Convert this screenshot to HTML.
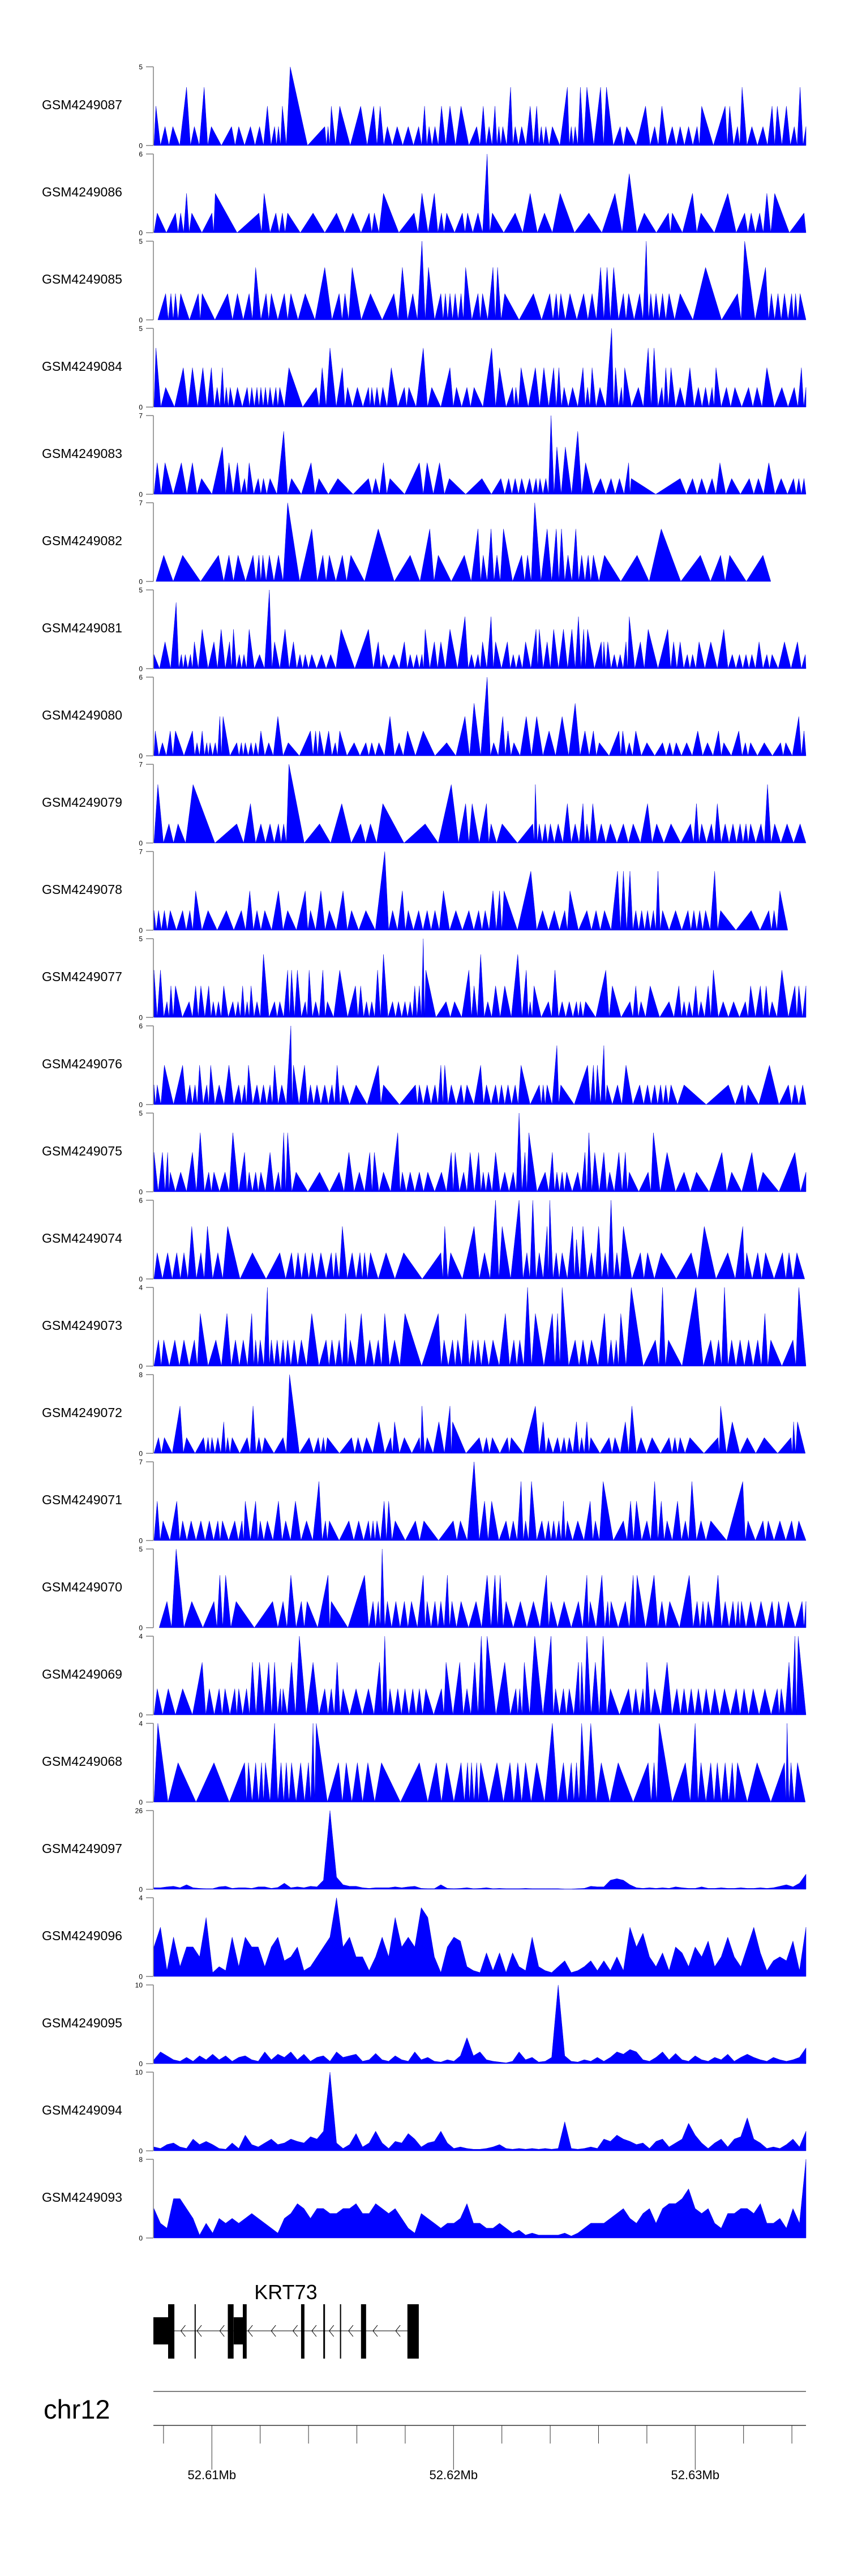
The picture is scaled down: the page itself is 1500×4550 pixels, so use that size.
<!DOCTYPE html>
<html>
<head>
<meta charset="utf-8">
<style>
  html,body{margin:0;padding:0;background:#fff;}
  svg{display:block;}
  text{font-family:"Liberation Sans", Arial, sans-serif;}
</style>
</head>
<body>
<svg id="chart" xmlns="http://www.w3.org/2000/svg" width="1500" height="4550" viewBox="0 0 1500 4550">
  <rect x="0" y="0" width="1500" height="4550" fill="#ffffff"/>
  <g id="tracks"></g>
  <g id="gene"></g>
  <g id="axis"></g>
</svg>
<script>
// ---------- track metadata ----------
const trackNames = ["GSM4249087","GSM4249086","GSM4249085","GSM4249084","GSM4249083","GSM4249082","GSM4249081","GSM4249080","GSM4249079","GSM4249078","GSM4249077","GSM4249076","GSM4249075","GSM4249074","GSM4249073","GSM4249072","GSM4249071","GSM4249070","GSM4249069","GSM4249068","GSM4249097","GSM4249096","GSM4249095","GSM4249094","GSM4249093"];
const trackMax = [5,6,5,5,7,7,5,6,7,7,5,6,5,6,4,8,7,5,4,4,26,4,10,10,8];

// ---------- spiky tracks: positions (% of window) and values ----------
const p087 = [0.3,1.7,2.9,5,6.2,7.7,8.8,11.9,13,14.8,16.2,17.4,18.5,19.1,19.7,20.9,26.2,26.7,27.2,28.5,31.7,33.7,34.7,35.8,37.3,39,40.6,41.5,42.2,43.1,44.1,45.4,47.1,49.5,50.5,51.4,52.3,52.9,53.5,54.7,55.4,56.4,57.7,58.7,59.4,60.1,61.1,63.4,64,64.6,65.4,66.4,68.5,69.4,71.5,72.5,75.4,76.8,77.9,79.5,80.7,82,83.3,84,87.6,88.3,89.5,90.2,91.7,93.4,94.8,95.6,97,98.2,99.1,100];
const v087 = [2.5,1.2,1.2,3.7,1.2,3.7,1.2,1.2,1.2,1.2,1.2,2.5,1.2,1.2,2.5,5,1.2,1.2,2.5,2.5,2.5,2.5,2.5,1.2,1.2,1.2,1.2,2.5,1.2,1.2,2.5,2.5,2.5,1.2,2.5,1.2,2.5,1.2,1.2,3.7,1.2,1.2,2.5,2.5,1.2,1.2,1.2,3.7,1.2,1.2,3.7,3.7,3.7,3.7,1.2,1.2,2.5,1.2,2.5,1.2,1.2,1.2,1.2,2.5,2.5,2.5,1.2,3.7,1.2,1.2,2.5,2.5,2.5,1.2,3.7,1.2];

const p086 = [0.5,3.3,4.1,5,5.8,8.9,9.4,16.1,16.9,18.7,19.7,20.5,24.4,28,30.5,33,33.8,35.2,39.9,41.1,43,44.1,44.9,47.3,48.1,49.7,51.1,51.9,55.4,57.7,59.9,62.3,66.7,70.7,72.9,75.2,78.9,79.5,82.6,83.9,88,90.6,91.6,92.9,94,95.2,99.7];
const v086 = [1.5,1.5,1.5,3,1.5,1.5,3,1.5,3,1.5,1.5,1.5,1.5,1.5,1.5,1.5,1.5,3,1.5,3,3,1.5,1.5,1.5,1.5,1.5,6,1.5,1.5,3,1.5,3,1.5,3,4.5,1.5,1.5,1.5,3,1.5,3,1.5,1.5,1.5,3,3,1.5];

const p085 = [1.8,2.6,3.3,4.1,6.8,7.4,11.3,12.8,14.6,15.6,17.2,18,20,21,23.2,26.2,28.4,29.3,30.4,33.2,36.8,38.1,39.7,41.1,42.1,44,44.7,45.4,46.2,47.1,47.8,49.7,50.4,52,52.7,53.8,58.2,60.7,61.7,62.4,63.8,65.9,67.2,68.5,69.5,70.5,72,72.8,74.5,75.5,76.2,77,78,79,80.7,84.6,89.5,90.6,93.8,94.7,95.7,96.7,97.8,98.4,99.1];
const v085 = [1.67,1.67,1.67,1.67,1.67,1.67,1.67,1.67,1.67,3.33,1.67,1.67,1.67,1.67,1.67,3.33,1.67,1.67,3.33,1.67,1.67,3.33,1.67,5,3.33,1.67,1.67,1.67,1.67,1.67,3.33,1.67,1.67,3.33,3.33,1.67,1.67,1.67,1.67,1.67,1.67,1.67,1.67,3.33,3.33,3.33,1.67,1.67,1.67,5,1.67,1.67,1.67,1.67,1.67,3.33,1.67,5,3.33,1.67,1.67,1.67,1.67,1.67,1.67];

const p084 = [0.3,1.8,4.5,5.9,7.5,8.8,9.7,10.5,11.1,11.7,12.8,14.3,15,15.8,16.4,17.1,17.8,18.7,19.3,20.7,24.9,25.8,27,28.9,29.7,31.2,32.9,33.4,34.2,35.1,36.4,38.4,39.1,41.3,42.6,45.4,46.4,48,49.1,51.8,53,55,55.5,56.3,58.5,59.8,61.3,62.1,62.9,64.2,65.8,66.5,67.2,68.4,70.2,70.8,71.7,72.2,74.3,75.8,76.7,77.9,78.5,79.3,80.7,82.2,83.5,84.6,85.6,86.2,87.8,89.1,91.2,92.5,94,96.3,98.2,99.3,100];
const v084 = [3.75,1.25,2.5,2.5,2.5,2.5,1.25,2.5,1.25,1.25,1.25,1.25,1.25,1.25,1.25,1.25,1.25,1.25,1.25,2.5,1.25,2.5,3.75,2.5,1.25,1.25,1.25,1.25,1.25,1.25,2.5,1.25,1.25,3.75,1.25,2.5,1.25,1.25,1.25,3.75,2.5,1.25,1.25,2.5,2.5,2.5,2.5,2.5,1.25,1.25,2.5,1.25,2.5,1.25,5,2.5,1.25,2.5,1.25,3.75,3.75,1.25,2.5,2.5,1.25,2.5,1.25,1.25,1.25,2.5,1.25,1.25,1.25,1.25,2.5,1.25,1.25,2.5,1.25];

const p083 = [0.5,1.7,4.2,5.9,7.3,10.5,11.5,12.8,13.9,14.6,16,16.8,17.8,19.9,21.1,24.1,25.3,28.2,32.9,34,35.2,36.2,40.7,41.9,43.8,45.3,50.3,53.2,54.4,55.4,56.4,57.6,58.6,59.2,60.1,60.9,61.8,63.1,65,66.2,68.5,70.1,71.4,72.8,73.2,80.7,82.6,84,85.6,86.8,88.6,91.3,92.7,94.3,96.2,98.1,98.9,99.7];
const v083 = [2.8,2.8,2.8,2.8,1.4,4.2,2.8,2.8,1.4,2.8,1.4,1.4,1.4,5.6,1.4,2.8,1.4,1.4,1.4,1.4,2.8,1.4,2.8,2.8,2.8,1.4,1.4,1.4,1.4,1.4,1.4,1.4,1.4,1.4,1.4,7,4.2,4.2,5.6,2.8,1.4,1.4,1.4,2.8,1.4,1.4,1.4,1.4,1.4,2.8,1.4,1.4,1.4,2.8,1.4,1.4,1.4,1.4];

const p082 = [1.5,4.4,9.9,11.5,12.9,15.2,16.1,16.7,17.7,19.1,20.5,24.2,25.9,26.9,28.9,30.2,34.4,39.3,42.3,43.6,47.6,49.7,50.5,51.7,52.6,53.6,56.4,57.3,58.4,60.3,61.7,62.5,63.5,64.7,65.6,66.6,67.4,69.1,74.1,77.8,83.8,86.9,88.3,93.4];
const v082 = [2.33,2.33,2.33,2.33,2.33,2.33,2.33,2.33,2.33,2.33,7,4.67,2.33,2.33,2.33,2.33,4.67,2.33,4.67,2.33,2.33,4.67,2.33,4.67,2.33,4.67,2.33,2.33,7,4.67,4.67,4.67,2.33,4.67,2.33,2.33,2.33,2.33,2.33,4.67,2.33,2.33,2.33,2.33];

const p081 = [0,1.7,3.4,4.2,4.8,5.6,6.2,7.4,9.2,10.3,11.6,12.2,13.1,13.8,14.6,16.2,17.7,18.5,20.1,21.4,22.4,23.2,24.2,25.7,27.1,28.7,32.9,34.4,35.2,36.8,38.4,39.3,40.3,41.1,41.6,43,44,45.4,47.7,48.7,49.7,50.4,51.7,52.4,54.2,55.1,56,57,58.6,59.1,60.3,61.3,62.8,64.1,65.1,65.9,66.5,68.6,69,69.6,70.6,71.5,72.4,72.9,74.6,75.8,78.8,79.7,80.7,81.8,82.6,83.6,85.4,87.4,88.7,89.8,90.8,91.7,92.8,94,94.8,96.7,98.7,99.9];
const v081 = [0.9,1.7,4.2,0.9,0.9,0.9,1.7,2.5,1.7,2.5,1.7,2.5,0.9,0.9,2.5,0.9,5,1.7,2.5,1.7,0.9,0.9,0.9,0.9,0.9,2.5,2.5,1.7,0.9,0.9,1.7,0.9,0.9,0.9,2.5,1.7,1.7,2.5,3.3,0.9,0.9,1.7,3.3,1.7,1.7,0.9,0.9,1.7,2.5,2.5,1.7,2.5,2.5,2.5,3.3,2.5,2.5,1.7,1.7,1.7,0.9,0.9,1.7,3.3,1.7,2.5,2.5,1.7,1.7,0.9,0.9,1.7,1.7,2.5,0.9,0.9,0.9,0.9,1.7,0.9,0.9,1.7,1.7,0.9];

const p080 = [0.2,1.3,2.5,3.3,5.9,6.6,7.4,8.1,8.6,9.4,10.1,10.6,12.7,13.4,14,14.9,15.6,16.4,17.6,19,20.6,24,24.8,25.4,26.8,27.8,28.5,30.7,32.5,33.4,34.5,36.2,37.6,38.9,41.3,44.9,47.7,49.1,51.1,52.1,53.5,54.3,55.2,57.1,58.7,60.6,62.6,64.6,66.1,67.4,68.3,71.3,71.9,72.9,73.9,75.6,78,79.1,80.1,81.7,83.4,84.9,86.6,87.4,89.7,90.7,91.5,93.6,96.1,96.9,98.9,99.7];
const v080 = [1.9,1,1.9,1.9,1.9,1,1.9,1,1,1,3,3,1,1,1,1,1,1.9,1,3,1,1.9,1.9,1.9,1.9,1,1.9,1,1,1,1,3,1,1.9,1.9,1,3,4,6,1,3,1.9,1,3,3,1.9,3,4,1.9,1.9,1,1.9,1.9,1,1.9,1,1,1,1,1,1.9,1,1.9,1,1.9,1,1,1,1,1,3,1.9];

const p079 = [0.6,2.3,3.7,6,12.7,14.8,16.4,17.8,19.1,19.9,20.7,25.4,28.8,31.7,33.2,35.1,41.6,45.6,47.8,48.8,51,51.7,53.4,58.1,58.5,59.1,60,60.8,62,63.4,64.6,65.8,66.4,67.3,68.6,70,72,73.5,75.7,77.1,79.3,82.3,83.2,84,85.5,86.4,87.6,88.8,89.9,90.8,91.5,93.1,94.1,95.2,97.1,99.1];
const v079 = [5.2,1.7,1.7,5.2,1.7,3.5,1.7,1.7,1.7,1.7,7,1.7,3.5,1.7,1.7,3.5,1.7,5.2,3.5,3.5,3.5,1.7,1.7,1.7,5.2,1.7,1.7,1.7,1.7,3.5,1.7,3.5,1.7,3.5,1.7,1.7,1.7,1.7,3.5,1.7,1.7,1.7,3.5,1.7,1.7,3.5,1.7,1.7,1.7,1.7,1.7,1.7,5.2,1.7,1.7,1.7];

const p078 = [0,0.7,1.6,2.5,4.4,5.5,6.4,8.3,11.1,13.4,14.7,15.8,17,19.1,20.5,23.2,24,25.6,26.9,29,30.3,32.5,35.4,36.6,38.1,39,40.6,41.9,43.1,44.4,46.3,48.3,49.8,50.8,52,53,53.7,57.8,59.6,61.4,63,63.8,66.4,67.8,69.1,71.1,72,73,73.9,74.8,75.7,76.6,77.3,78,80,81.9,82.8,83.7,84.6,86,86.9,91.6,94.3,95.1,96];
const v078 = [1.75,1.75,1.75,1.75,1.75,1.75,3.5,1.75,1.75,1.75,3.5,1.75,1.75,3.5,1.75,3.5,1.75,3.5,1.75,3.5,1.75,1.75,7,1.75,3.5,1.75,1.75,1.75,1.75,3.5,1.75,1.75,1.75,1.75,3.5,3.5,3.5,5.25,1.75,1.75,1.75,3.5,1.75,1.75,1.75,5.25,5.25,5.25,1.75,1.75,1.75,1.75,5.25,1.75,1.75,1.75,1.75,1.75,1.75,5.25,1.75,1.75,1.75,1.75,3.5];

const p077 = [0,1,2,2.6,3.3,5.4,6.4,7.2,8.4,9.1,9.9,10.7,12.1,12.9,13.6,14.3,14.9,15.8,16.8,18.5,19.3,20.5,21.1,22,23.2,23.8,24.8,25.9,26.6,28.5,30.9,31.7,32.6,33.4,34.3,35.2,36.6,37.5,38.5,39.3,40,40.7,41.3,41.7,44.8,46.1,48.3,49.1,50.1,51.2,52.4,53.8,55.8,57.1,57.7,58.3,60.5,61.5,62.6,63.7,64.8,65.4,66.2,69.3,70.3,73,73.9,74.7,76.1,79,80.5,81.3,82.1,83.1,83.9,85,85.8,87.3,88.9,90.7,91.5,93,93.9,94.8,96.3,98.3,98.9,100];
const v077 = [3,3,1,2,2,1,2,2,2,1,1,2,1,1,2,1,2,1,4,1,1,3,3,3,1,3,1,3,1,3,2,2,1,1,3,4,1,1,1,1,2,2,5,3,1,1,3,2,4,1,2,2,4,3,1,2,1,3,1,1,1,1,1,3,2,1,2,1,2,1,2,1,1,2,1,2,3,1,1,1,2,2,2,1,3,2,2,2];

const p076 = [0,0.5,1.6,4.4,5.5,6.3,7,8.1,8.7,10,11.5,13,13.9,14.5,15.8,16.8,17.8,18.5,19.6,21,21.4,23.1,24,25,26.2,27.3,28.1,29,31,34.4,35.2,40.1,40.7,41.9,43.1,44,44.6,45.6,47.1,48,50.1,51,52.4,53.3,54.3,55.4,56.3,59.1,59.7,60.3,61.8,62.4,66.5,67.4,68,69,69.5,71.1,72.4,74.5,75.7,76.8,77.7,78.5,79.3,81.3,88.1,90.2,91.1,94.4,97.3,98.3,99.5];
const v076 = [1.5,1.5,3,3,1.5,1.5,3,1.5,3,1.5,3,1.5,1.5,3,1.5,1.5,1.5,3,1.5,6,3,3,1.5,1.5,1.5,1.5,3,1.5,1.5,3,1.5,1.5,1.5,1.5,1.5,3,3,1.5,1.5,1.5,3,1.5,1.5,1.5,1.5,1.5,3,1.5,1.5,1.5,4.5,1.5,3,3,3,4.5,1.5,1.5,3,1.5,1.5,1.5,1.5,1.5,1.5,1.5,1.5,1.5,1.5,3,1.5,1.5,1.5];

const p075 = [0,1.3,2.1,2.5,4.1,5.9,7.1,8.4,9.2,10.9,12.1,13.9,14.6,15.6,16.4,17.8,19.1,19.9,20.5,21.8,25.4,28.4,29.9,31.5,33.1,33.8,35.2,37.4,38.1,39.3,40.7,42,44.1,45.6,46.2,47.5,48.5,49.8,50.5,51.3,52.4,53.8,55.1,56,56.9,57.5,60,61.1,61.8,62.6,63.3,65,66.1,66.7,67.6,69,69.9,71.3,72.3,72.9,75.8,76.6,78.7,81.3,83.2,87.1,88.6,91.7,93.4,98.3,100];
const v075 = [2.5,2.5,2.5,1.25,1.25,2.5,3.75,1.25,1.25,1.25,3.75,2.5,1.25,1.25,1.25,2.5,1.25,3.75,3.75,1.25,1.25,1.25,2.5,1.25,2.5,2.5,1.25,3.75,1.25,1.25,1.25,1.25,1.25,2.5,2.5,1.25,2.5,2.5,1.25,1.25,2.5,1.25,1.25,5,2.5,3.75,1.25,2.5,1.25,1.25,1.25,1.25,2.5,3.75,2.5,2.5,1.25,2.5,2.5,1.25,1.25,3.75,2.5,1.25,1.25,2.5,1.25,2.5,1.25,2.5,1.25];

const p074 = [0.5,2.1,3.5,4.6,5.8,7.2,8.2,9.8,11.3,15.1,19.3,21.1,22.1,23.2,24.3,25.6,27.2,27.9,28.9,30.4,31.6,32.3,33.2,35.6,38.3,44,44.6,45.5,49.1,50.7,52.4,53.4,56,57.2,58.1,59.1,60.3,60.7,61.7,62.6,64.2,64.8,65.8,67.1,68.2,69.2,70.1,71,72,74.6,75.7,77.8,82.4,84.4,88,90.3,90.9,92.6,93.8,96.4,97.4,98.6];
const v074 = [2,2,2,2,4,2,4,2,4,2,2,2,2,2,2,2,2,2,4,2,2,2,2,2,2,2,4,2,4,2,6,4,6,2,6,2,4,6,2,2,4,3,4,2,4,2,6,2,4,2,2,2,2,4,2,4,2,2,2,2,2,2];

const p073 = [0.7,1.5,3.2,4.6,6.2,7.1,9.5,11.2,12.5,13.7,15,15.6,16.3,17.4,18,18.9,19.8,20.5,21.5,22.6,24.2,26.4,27.3,28.4,29.4,30.1,31.8,33.1,34.4,35.4,36.9,38.5,43.6,44.5,45.8,46.6,47.8,48.9,49.7,50.7,52,53.9,55.2,56.1,57.3,58.5,61.1,61.9,62.6,64.6,65.8,67.1,69.1,70.1,70.9,71.6,73.2,76.9,78,78.9,83.1,85.4,86.6,87.5,88.6,89.9,91.2,92.6,93.7,94.6,98,98.9];
const v073 = [1.33,1.33,1.33,1.33,1.33,2.67,1.33,2.67,1.33,1.33,2.67,1.33,1.33,4,1.33,1.33,1.33,1.33,1.33,1.33,2.67,1.33,1.33,1.33,2.67,1.33,2.67,1.33,1.33,2.67,1.33,2.67,2.67,1.33,1.33,1.33,2.67,1.33,1.33,1.33,1.33,2.67,1.33,1.33,4,2.67,2.67,2.67,4,1.33,1.33,1.33,2.67,1.33,1.33,2.67,4,1.33,4,1.33,4,1.33,1.33,4,1.33,1.33,1.33,1.33,2.67,1.33,1.33,4];

const p072 = [0.7,1.6,4,5,7.6,8.3,8.9,9.8,10.7,11.3,12,14.3,15.2,16.1,17,19.8,20.8,23.8,25.2,26,26.6,30.3,31.3,32.6,34.5,36.3,36.9,38.4,40.7,41.1,41.9,43.7,45.4,45.8,49.9,51,51.9,54.2,54.8,58.5,59.7,60.5,61.9,62.9,63.7,64.8,65.6,66.4,67,69.8,70.7,72.3,73.3,74.7,76.4,79,79.9,80.7,82.2,86.5,86.9,88.7,91,93.6,97.7,98.1,98.7];
const v072 = [1.6,1.6,4.8,1.6,1.6,1.6,1.6,1.6,3.2,1.6,1.6,1.6,4.8,1.6,1.6,1.6,8,1.6,1.6,1.6,1.6,1.6,1.6,1.6,3.2,1.6,3.2,1.6,1.6,4.8,1.6,3.2,4.8,3.2,1.6,1.6,1.6,1.6,1.6,4.8,3.2,1.6,1.6,1.6,1.6,3.2,1.6,3.2,1.6,1.6,1.6,3.2,4.8,1.6,1.6,1.6,1.6,1.6,1.6,1.6,4.8,3.2,1.6,1.6,1.6,3.2,3.2];

const p071 = [0.5,1.4,3.5,4.4,5.7,7.2,8.5,9.8,10.5,12.4,13.5,14,15.6,16.3,17.4,19.1,20.2,21.7,23.4,25.3,26.3,26.9,29.9,31.4,32.9,33.6,34.2,35.3,36,37,40.1,41.4,45.9,47,49.1,50.7,51.8,54,55.1,56.3,57,57.9,59.5,60.5,61.3,62.1,62.8,63.4,65,66.9,67.7,68.9,72,73.1,74,75.6,76.8,77.8,78.7,80.3,81.5,82.5,83.9,85.4,90.3,91.1,93.4,94.2,96,97.8,98.9];
const v071 = [3.5,1.75,3.5,1.75,1.75,1.75,1.75,1.75,1.75,1.75,1.75,3.5,3.5,1.75,1.75,3.5,1.75,3.5,1.75,5.25,1.75,1.75,1.75,1.75,1.75,1.75,1.75,3.5,3.5,1.75,1.75,1.75,1.75,1.75,7,3.5,3.5,1.75,1.75,5.25,1.75,5.25,1.75,1.75,1.75,1.75,3.5,1.75,1.75,3.5,1.75,5.25,1.75,3.5,3.5,1.75,5.25,3.5,1.75,3.5,1.75,5.25,1.75,1.75,5.25,1.75,1.75,1.75,1.75,1.75,1.75];

const p070 = [2,3.4,5.8,9.2,10.1,11,12.6,18.2,19.8,21,22.6,23.5,26.7,27.2,32.3,33.6,34.4,35,35.8,37.1,38.4,39.5,41.3,41.9,43.1,44,45,45.7,47.1,49.4,51.1,52.3,53.1,54,56.2,58.2,60.2,60.9,62.9,65.1,66.4,66.9,68.7,69.6,70.1,72.3,73.5,74.1,76.7,77.9,79.1,82.1,83.3,84.2,85,86.5,87.6,88.8,89.6,90.1,91.5,93.1,94.8,95.8,97.3,99.4,100];
const v070 = [1.67,5,1.67,1.67,3.33,3.33,1.67,1.67,1.67,3.33,1.67,1.67,3.33,1.67,3.33,1.67,1.67,5,1.67,1.67,1.67,1.67,3.33,1.67,1.67,1.67,3.33,1.67,1.67,1.67,3.33,3.33,3.33,1.67,1.67,1.67,3.33,1.67,1.67,1.67,3.33,1.67,3.33,1.67,1.67,1.67,3.33,3.33,3.33,1.67,1.67,3.33,1.67,1.67,1.67,3.33,1.67,1.67,1.67,1.67,1.67,1.67,1.67,1.67,1.67,1.67,1.67];

const p069 = [0.5,2.2,4.4,7.4,8.5,10,10.9,12.4,13,14.2,15.1,16.2,17.6,18.5,19.4,19.8,21.1,22.3,24.4,26.2,27.2,28.1,29,31,32.9,34.6,35.4,36.2,37.4,38.5,39.7,40.7,41.7,44.1,44.8,46.9,48,49.2,50.2,51.1,53.8,55.5,56.1,56.8,58.4,60.9,61.6,62.8,63.7,65.1,65.6,66.4,67.7,68.9,70,72.8,73.9,75,75.6,76.8,78.7,80.2,81.3,82.4,83.5,84.7,86,87.5,89.3,90.5,91.9,93.7,95.6,96.2,97.4,98.3,98.8];
const v069 = [1.33,1.33,1.33,2.67,1.33,1.33,1.33,1.33,1.33,1.33,2.67,2.67,2.67,2.67,1.33,1.33,2.67,4,2.67,1.33,1.33,2.67,1.33,1.33,1.33,2.67,4,1.33,1.33,1.33,1.33,1.33,1.33,1.33,2.67,2.67,1.33,2.67,4,4,2.67,1.33,1.33,2.67,4,4,1.33,1.33,1.33,2.67,2.67,4,2.67,4,1.33,1.33,1.33,1.33,2.67,1.33,2.67,1.33,1.33,1.33,1.33,1.33,1.33,1.33,1.33,1.33,1.33,1.33,1.33,1.33,2.67,4,4];

const p068 = [0.6,3.7,9.2,13.9,14.5,15.6,16.5,17.1,18.5,19.5,20.3,21.1,22.5,23.7,24.4,24.9,28.3,29.5,31.2,32.8,34.9,40.7,43.3,44.9,47.1,48.1,48.7,49.5,50.1,52.6,54.6,55.8,57,58.7,61.1,62.8,64,64.8,65.6,67,68.6,71.2,75.8,76.7,77.5,81.5,83,83.9,85.4,86.4,87.6,88.7,89.5,92.5,96.7,97.1,97.7,98.7];
const v068 = [4,2,2,2,2,2,2,2,4,2,2,2,2,2,4,4,2,2,2,2,2,2,2,2,2,2,2,2,2,2,2,2,2,2,4,2,2,2,4,4,2,2,2,2,4,2,4,2,2,2,2,2,2,2,2,4,2,2];

// ---------- continuous tracks: values on an even grid across the window (101 points) ----------
const v097 = [0.5,0.5,0.8,1,0.5,1.5,0.5,0.3,0.2,0.2, 0.8,1,0.3,0.5,0.5,0.3,0.8,0.8,0.3,0.6, 2,0.5,0.8,0.5,1,0.8,3,26,4,1.5, 1,1,0.5,0.3,0.5,0.5,0.5,0.8,0.5,0.8, 1,0.3,0.2,0.2,1.5,0.3,0.2,0.3,0.5,0.2, 0.3,0.5,0.2,0.3,0.2,0.2,0.2,0.3,0.2,0.2, 0.2,0.2,0.2,0.1,0.1,0.2,0.3,1,0.8,0.8, 3,3.5,3,1.5,0.5,0.3,0.5,0.3,0.5,0.3, 0.8,0.5,0.3,0.3,0.8,0.3,0.3,0.5,0.3,0.3, 0.5,0.3,0.3,0.5,0.3,0.5,1,1.5,0.8,2, 5];
const v096 = [1.5,2.5,0.3,2,0.5,1.5,1.5,1,3,0.2, 0.5,0.3,2,0.5,2,1.5,1.5,0.5,1.5,2, 0.8,1,1.5,0.3,0.5,1,1.5,2,4,1.5, 2,1,1,0.3,1,2,1,3,1.5,2, 1.5,3.5,3,1,0.2,1.5,2,1.8,0.5,0.3, 0.2,1.2,0.3,1.2,0.2,1.2,0.5,0.3,2,0.5, 0.3,0.2,0.5,0.8,0.2,0.3,0.5,0.8,0.3,0.8, 0.3,1,0.3,2.5,1.5,2.2,1,0.5,1.2,0.3, 1.5,1.2,0.5,1.5,1,1.8,0.5,1,2,1, 0.5,1.5,2.5,1.2,0.3,0.8,1,0.8,1.8,0.3, 2.5];
const v095 = [0.5,1.5,1,0.5,0.3,0.8,0.3,1,0.5,1.2, 0.5,1,0.3,0.8,1,0.5,0.3,1.5,0.5,1.2, 0.8,1.5,0.5,1.2,0.3,0.8,1,0.3,1.5,0.8, 1,1.2,0.3,0.5,1.3,0.5,0.3,1,0.5,0.3, 1.5,0.5,0.8,0.3,0.2,0.5,0.3,1,3.3,1, 1.5,0.5,0.3,0.2,0.1,0.3,1.5,0.5,0.8,0.2, 0.3,0.8,10,1,0.3,0.2,0.5,0.3,0.8,0.3, 0.8,1.5,1.2,1.8,1.5,0.5,0.3,0.8,1.5,0.5, 1.3,0.5,0.3,1,0.5,0.3,0.8,0.5,1.2,0.3, 0.8,1.2,0.8,0.5,0.3,0.8,0.5,0.3,0.5,0.8, 2];
const v094 = [0.5,0.3,0.8,1,0.5,0.3,1.5,0.8,1.2,0.8, 0.3,0.2,1,0.3,2,0.8,0.5,1,1.5,0.8, 1,1.5,1.2,1,1.8,1.5,2.5,10,1,0.3, 0.8,2.2,0.5,1,2.5,1,0.3,1.2,1,2.2, 1.5,0.5,1,1.2,2.5,1,0.3,0.5,0.3,0.2, 0.2,0.3,0.5,0.8,0.3,0.2,0.3,0.2,0.3,0.2, 0.3,0.2,0.3,3.7,0.3,0.2,0.3,0.5,0.3,1.5, 1.2,2,1.5,1.2,0.8,1,0.3,1.2,1.5,0.5, 1,1.5,3.5,2,1,0.3,1,1.5,0.5,1.5, 1.8,4.2,1.5,1,0.3,0.5,0.3,0.8,1.5,0.5, 2.5];
const v093 = [3,1.5,1,4,4,3,2,0.3,1.5,0.5, 2,1.5,2,1.5,2,2.5,2,1.5,1,0.5, 2,2.5,3.5,3,2,3,3,2.5,2.5,3, 3,3.5,2.5,2.5,3.5,3,2.5,3,2,1, 0.5,2.5,2,1.5,1,1.5,1.5,2,3.5,1.5, 1.5,1,1,1.5,1,0.5,0.8,0.3,0.5,0.3, 0.3,0.3,0.3,0.5,0.2,0.5,1,1.5,1.5,1.5, 2,2.5,3,2,1.5,2.5,3,1.5,3,3.5, 3.5,4,5,3,2.5,3,1.5,1,2.5,2.5, 3,3,2.5,3.5,1.5,1.5,2,1,3,1.5, 8];

const spikePos = [p087,p086,p085,p084,p083,p082,p081,p080,p079,p078,p077,p076,p075,p074,p073,p072,p071,p070,p069,p068];
const spikeVal = [v087,v086,v085,v084,v083,v082,v081,v080,v079,v078,v077,v076,v075,v074,v073,v072,v071,v070,v069,v068];
const contVal = [v097,v096,v095,v094,v093];

// ---------- gene model (kb offsets from window start) ----------
const exonStartKb = [0, 0.61, 1.706, 3.08, 3.32, 3.70, 6.11, 7.03, 7.72, 8.59, 10.51];
const exonEndKb   = [0.61, 0.87, 1.753, 3.32, 3.70, 3.86, 6.25, 7.10, 7.77, 8.80, 10.98];
const exonKind    = ["utr","cds","cds","cds","utr","cds","cds","cds","cds","cds","cds"];
const arrowKb = [1.23, 1.90, 2.84, 4.01, 4.97, 5.87, 6.65, 7.37, 8.17, 9.18, 10.12];
const geneLabel = "KRT73";

// ---------- genome axis ----------
const winStart = 52607581;
const winEnd = 52634583;
const tickStep = 2000;
const majorStep = 10000;

// ---------- layout ----------
const NS = "http://www.w3.org/2000/svg";
const X0 = 272, X1 = 1424;
const TRACK_TOP = 118, TRACK_PITCH = 154, TRACK_H = 139;
const AX_X0 = 271, AX_X1 = 1424;

function mk(tag, attrs, parent) {
  const el = document.createElementNS(NS, tag);
  for (const k in attrs) el.setAttribute(k, attrs[k]);
  parent.appendChild(el);
  return el;
}
function xPct(p) { return X0 + p / 100 * (X1 - X0); }
function xBp(bp) { return AX_X0 + (bp - winStart) / (winEnd - winStart) * (AX_X1 - AX_X0); }
function xKb(kb) { return xBp(winStart + kb * 1000); }

const tracksG = document.getElementById("tracks");
for (let i = 0; i < trackNames.length; i++) {
  const top = TRACK_TOP + i * TRACK_PITCH;
  const base = top + TRACK_H;
  const max = trackMax[i];
  const yv = v => base - Math.min(v, max) / max * TRACK_H;
  const g = mk("g", {}, tracksG);
  
  

  const lab = mk("text", {x: 74, y: top + 75, "font-size": 23, fill: "#000"}, g);
  lab.textContent = trackNames[i];
  
  

  const ax = mk("line", {x1: 271, y1: top, x2: 271, y2: base, stroke: "#808080", "stroke-width": 1.5}, g);
  
  
  const t1 = mk("line", {x1: 258, y1: top, x2: 271, y2: top, stroke: "#808080", "stroke-width": 1.5}, g);
  
  
  const t0 = mk("line", {x1: 258, y1: base, x2: 271, y2: base, stroke: "#808080", "stroke-width": 1.5}, g);
  
  
  const tl1 = mk("text", {x: 252, y: top + 4.5, "font-size": 12, "text-anchor": "end", fill: "#000"}, g);
  tl1.textContent = String(max);
  
  
  const tl0 = mk("text", {x: 252, y: base + 4.5, "font-size": 12, "text-anchor": "end", fill: "#000"}, g);
  tl0.textContent = "0";
  
  

  let d = "";
  if (i < spikePos.length) {
    const pos = spikePos[i], val = spikeVal[i];
    const n = Math.min(pos.length, val.length);
    const startP = Math.max(0, pos[0] - 1.2);
    d = "M" + xPct(startP).toFixed(1) + "," + base;
    for (let k = 0; k < n; k++) {
      d += " L" + xPct(pos[k]).toFixed(1) + "," + yv(val[k]).toFixed(1);
      if (k < n - 1) {
        const mid = (pos[k] + pos[k + 1]) / 2;
        d += " L" + xPct(mid).toFixed(1) + "," + base;
      }
    }
    const endP = Math.min(100, pos[n - 1] + 1.2);
    d += " L" + xPct(endP).toFixed(1) + "," + base + " Z";
  } else {
    const vals = contVal[i - spikePos.length];
    const n = vals.length;
    d = "M" + xPct(0).toFixed(1) + "," + base;
    for (let k = 0; k < n; k++) {
      d += " L" + xPct(k / (n - 1) * 100).toFixed(1) + "," + yv(vals[k]).toFixed(1);
    }
    d += " L" + xPct(100).toFixed(1) + "," + base + " Z";
  }
  const area = mk("path", {d: d, fill: "#0000ff", stroke: "#0000e0", "stroke-width": 0.5}, g);
  
  
}

// ---------- gene model ----------
const geneG = document.getElementById("gene");
const GY = 4117, FULL_T = 4070, FULL_B = 4166, MID_T = 4093, MID_B = 4141;
const intron = mk("line", {x1: xKb(exonStartKb[0]), y1: GY, x2: xKb(exonEndKb[exonEndKb.length - 1]), y2: GY, stroke: "#000", "stroke-width": 1}, geneG);


for (let k = 0; k < arrowKb.length; k++) {
  const ax = xKb(arrowKb[k]);
  const ar = mk("polyline", {points: (ax + 4) + "," + (GY - 10) + " " + (ax - 4) + "," + GY + " " + (ax + 4) + "," + (GY + 10), fill: "none", stroke: "#000", "stroke-width": 1}, geneG);
  
  
}
for (let k = 0; k < exonStartKb.length; k++) {
  const xa = xKb(exonStartKb[k]), xb = xKb(exonEndKb[k]);
  const isUtr = exonKind[k] === "utr";
  const y0 = isUtr ? MID_T : FULL_T, y1 = isUtr ? MID_B : FULL_B;
  const r = mk("rect", {x: xa.toFixed(1), y: y0, width: Math.max(1.5, xb - xa).toFixed(1), height: y1 - y0, fill: "#000"}, geneG);
  
  
}
const gl = mk("text", {x: 505, y: 4061, "font-size": 36, "text-anchor": "middle", fill: "#000"}, geneG);
gl.textContent = geneLabel;



// ---------- genome axis ----------
const axisG = document.getElementById("axis");
const l1 = mk("line", {x1: AX_X0, y1: 4224, x2: AX_X1, y2: 4224, stroke: "#555", "stroke-width": 1.5}, axisG);


const l2 = mk("line", {x1: AX_X0, y1: 4284, x2: AX_X1, y2: 4284, stroke: "#333", "stroke-width": 1.5}, axisG);


const chr = mk("text", {x: 77, y: 4272, "font-size": 47, fill: "#000"}, axisG);
chr.textContent = "chr12";


for (let bp = Math.ceil(winStart / tickStep) * tickStep; bp <= winEnd; bp += tickStep) {
  const tx = xBp(bp);
  const major = bp % majorStep === 0;
  const tk = mk("line", {x1: tx.toFixed(1), y1: 4284, x2: tx.toFixed(1), y2: major ? 4362 : 4316, stroke: "#333", "stroke-width": 1}, axisG);
  
  
  if (major) {
    const lb = mk("text", {x: tx.toFixed(1), y: 4379, "font-size": 22, "text-anchor": "middle", fill: "#000"}, axisG);
    lb.textContent = (bp / 1e6).toFixed(2) + "Mb";
    
    
  }
}
</script>
</body>
</html>
